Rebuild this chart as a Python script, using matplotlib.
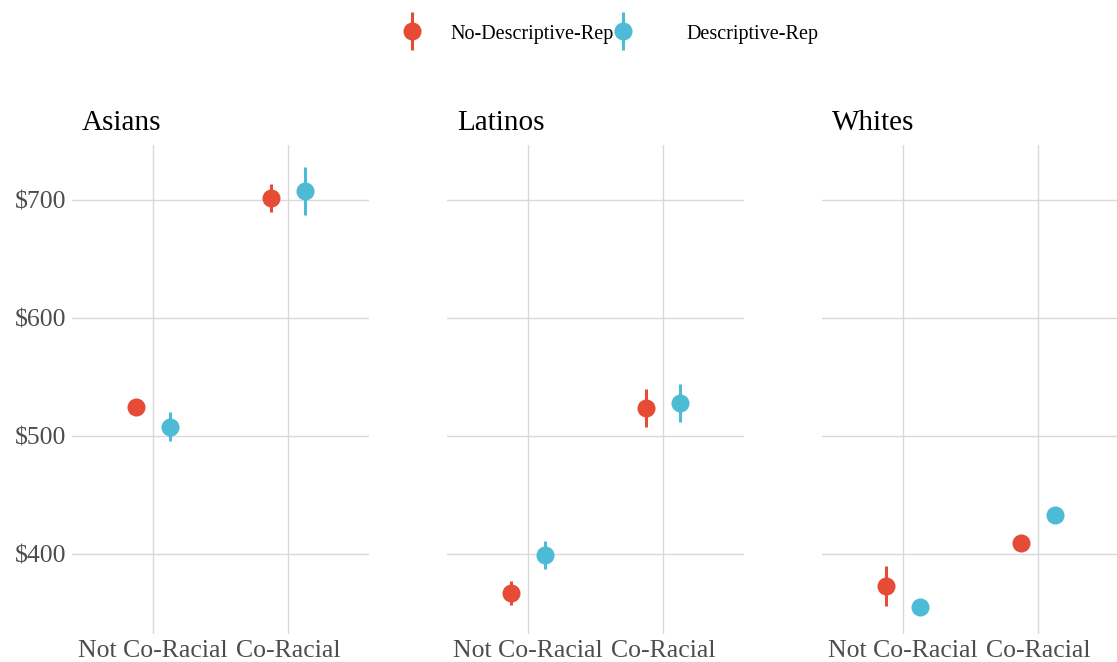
import matplotlib
matplotlib.use("Agg")
import matplotlib.pyplot as plt
from matplotlib.lines import Line2D
import numpy as np

plt.rcParams["font.family"] = ["Liberation Serif", "DejaVu Serif"]

# ====== data ======
groups = ["Asians", "Latinos", "Whites"]
categories = ["Not Co-Racial", "Co-Racial"]
series = ["No-Descriptive-Rep", "Descriptive-Rep"]

# mean per (group, category) for each series
no_rep_mean = {"Asians": [525, 702], "Latinos": [367, 524], "Whites": [373, 409]}
no_rep_err = {"Asians": [2, 12], "Latinos": [10, 16], "Whites": [17, 2]}
rep_mean = {"Asians": [508, 708], "Latinos": [399, 528], "Whites": [355, 433]}
rep_err = {"Asians": [12, 20], "Latinos": [12, 16], "Whites": [2, 2]}

yticks = [400, 500, 600, 700]

color_no = "#E64B35"
color_rep = "#4DBBD5"
color_grid = "#D9D9D9"
color_tick = "#4D4D4D"

# ====== figure ======
W, H = 1117, 662
fig = plt.figure(figsize=(W / 100, H / 100), dpi=100)

panel_left = [72, 447, 822]
panel_w = 297
top_px, bot_px = 145, 634
dodge = 0.125

x = np.arange(1, len(categories) + 1)
for i, g in enumerate(groups):
    ax = fig.add_axes([panel_left[i] / W, 1 - bot_px / H,
                       panel_w / W, (bot_px - top_px) / H])
    for xv, m, e in zip(x - dodge, no_rep_mean[g], no_rep_err[g]):
        ax.plot([xv, xv], [m - e, m + e], color=color_no, lw=2.2,
                solid_capstyle="butt", zorder=3)
    for xv, m, e in zip(x + dodge, rep_mean[g], rep_err[g]):
        ax.plot([xv, xv], [m - e, m + e], color=color_rep, lw=2.2,
                solid_capstyle="butt", zorder=3)
    ax.plot(x - dodge, no_rep_mean[g], "o", color=color_no, ms=13,
            mec="none", zorder=4)
    ax.plot(x + dodge, rep_mean[g], "o", color=color_rep, ms=13,
            mec="none", zorder=4)

    ax.set_xlim(0.4, 2.6)
    ax.set_ylim(332, 747)
    ax.set_xticks(x)
    ax.set_xticklabels(categories, fontsize=18.5, color=color_tick)
    ax.set_yticks(yticks)
    if i == 0:
        ax.set_yticklabels([f"${v}" for v in yticks], fontsize=18.5,
                           color=color_tick)
    else:
        ax.set_yticklabels([])
    ax.tick_params(length=0, pad=4)
    ax.grid(True, color=color_grid, linewidth=1.0)
    ax.set_axisbelow(True)
    for s in ax.spines.values():
        s.set_visible(False)
    ax.set_title(g, loc="left", fontsize=21, color="black", pad=11, x=0.033)

# legend on top: point with a vertical bar through it, then its label
leg_y = 1 - 31 / H
leg_keys = [(412, color_no, 450), (623, color_rep, 686)]
for (kx, col, tx), name in zip(leg_keys, series):
    fig.add_artist(Line2D([kx / W], [leg_y], transform=fig.transFigure,
                          marker="|", ms=27, mew=2.2, color=col, lw=0))
    fig.add_artist(Line2D([kx / W], [leg_y], transform=fig.transFigure,
                          marker="o", ms=13, mec="none", color=col, lw=0))
    fig.text(tx / W, leg_y - 3 / H, name, fontsize=14.5, ha="left",
             va="center", color="black")

fig.savefig("out.png", dpi=100, facecolor="white")
